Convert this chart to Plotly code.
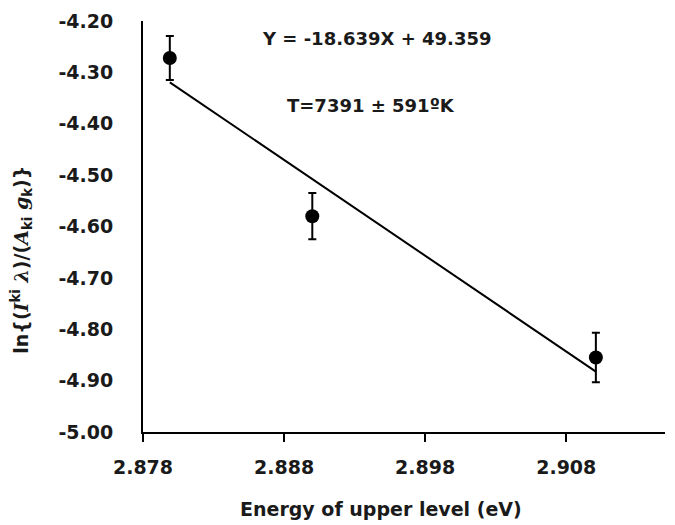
import plotly.graph_objects as go

energy = [2.8799, 2.8900, 2.9101]
ln_vals = [-4.272, -4.580, -4.855]
err = [0.043, 0.045, 0.048]
slope = -18.639
intercept = 49.359
fit_x = [energy[0], energy[-1]]
fit_y = [slope * x + intercept for x in fit_x]
x_ticks = [2.878, 2.888, 2.898, 2.908]
y_ticks = [-4.2, -4.3, -4.4, -4.5, -4.6, -4.7, -4.8, -4.9, -5.0]

FONT = "DejaVu Sans"
SERIF = "DejaVu Serif"
W, H = 675, 525
ML, MR, MT, MB = 143, 10, 17, 93

fig = go.Figure()
fig.add_trace(go.Scatter(x=fit_x, y=fit_y, mode="lines",
                         line=dict(color="black", width=2), showlegend=False))
fig.add_trace(go.Scatter(x=energy, y=ln_vals, mode="markers",
                         marker=dict(color="black", size=14),
                         error_y=dict(type="data", array=err, color="black",
                                      thickness=2, width=4),
                         showlegend=False))

fig.update_layout(
    width=W, height=H,
    margin=dict(l=ML, r=MR, t=MT, b=MB),
    paper_bgcolor="white", plot_bgcolor="white",
    font=dict(family=FONT, color="#1a1a1a", size=19),
    xaxis=dict(range=[2.878, 2.915], tickvals=x_ticks,
               ticktext=[f"{v:.3f}" for v in x_ticks],
               showgrid=False, zeroline=False, showline=True,
               linecolor="black", linewidth=2, ticks="outside",
               ticklen=8, tickwidth=2, tickcolor="black",
               tickfont=dict(family=FONT, size=19, weight="bold", color="#1a1a1a"),
               ticklabelstandoff=9),
    yaxis=dict(range=[-5.0, -4.2], tickvals=y_ticks,
               ticktext=[f"{v:.2f}" for v in y_ticks],
               showgrid=False, zeroline=False, showline=True,
               linecolor="black", linewidth=2, ticks="",
               tickfont=dict(family=FONT, size=19, weight="bold", color="#1a1a1a"),
               ticklabelstandoff=24),
)

def it(s):
    return f"<span style='font-family:{SERIF}'><i>{s}</i></span>"

ytitle = ("<b>ln{(" + it("I") + "<sup>ki</sup> " + it("λ") + ")/(" + it("A")
          + "<sub>ki</sub> " + it("g") + "<sub>k</sub>)}</b>")

annots = [
    ("<b>Y = -18.639X + 49.359</b>", 377, 35, 0, 18),
    ("<b>T=7391 ± 591ºK</b>", 371, 102, 0, 18),
    ("<b>Energy of upper level (eV)</b>", 381, 510, 0, 19),
    (ytitle, 22, 258, -90, 19),
]
pw = W - ML - MR
ph = H - MT - MB
for text, xp, yp, ang, sz in annots:
    fig.add_annotation(text=text, x=(xp - ML) / pw, y=1 - (yp - MT) / ph,
                       xref="paper", yref="paper",
                       xanchor="center", yanchor="middle", showarrow=False,
                       textangle=ang,
                       font=dict(size=sz, family=FONT, color="#1a1a1a"))

fig.write_html("out.html")
